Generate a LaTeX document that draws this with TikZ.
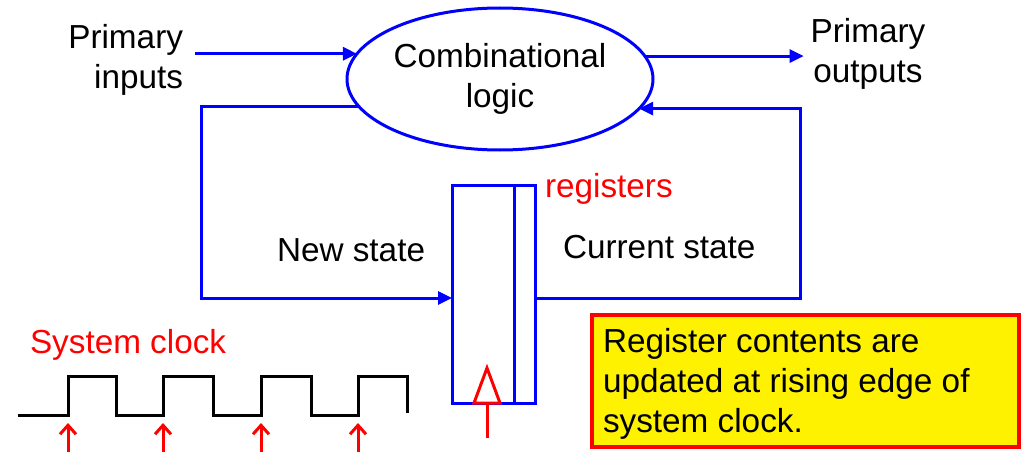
\documentclass[tikz,border=0pt]{standalone}
\usepackage{fontspec}
\setmainfont{Liberation Sans}
\usetikzlibrary{arrows.meta,shapes.geometric}
\begin{document}
\begin{tikzpicture}[x=1pt,y=-1pt,
  every node/.style={font=\fontsize{33.3}{40}\selectfont, inner sep=0pt, outer sep=0pt},
  wire/.style={blue, line width=3pt},
  arr/.style={-{Triangle[length=14pt,width=13pt]}},
  redarr/.style={red, line width=3pt, -{Straight Barb[length=9pt,width=16pt]}},
  clk/.style={line width=3pt, line join=miter}]
\useasboundingbox (0,0) rectangle (1025,452);
% combinational logic
\node[ellipse, draw=blue, line width=3pt, minimum width=306pt, minimum height=142pt, align=center] (ell) at (500,79) {Combinational\\logic};
% labels
\node[align=right, anchor=east] (pin) at (183,59.5) {Primary\\inputs};
\node[align=center] (pout) at (868,54) {Primary\\outputs};
\node[anchor=base west, red] (regl) at (545,197) {registers};
\node[anchor=base west] (nst) at (277,261) {New state};
\node[anchor=base west] (cst) at (563,258) {Current state};
\node[anchor=base west, red] (sclk) at (30,353) {System clock};
% register
\node[draw=blue, line width=3pt, minimum width=83pt, minimum height=218pt] (reg) at (493.5,294) {};
\draw[wire] ([xshift=-21pt]reg.north east) -- ([xshift=-21pt]reg.south east);
\coordinate (ck) at ([xshift=-6.5pt]reg.south);
\draw[red, line width=3pt, line join=miter] (ck) ++(-13,0) -- ++(13,-35) -- ++(13,35) -- cycle;
\draw[red, line width=3pt] (ck) -- ++(0,35);
% wires
\draw[wire,arr] ([xshift=12pt]pin.east |- ell.170.5) -- (ell.170.5);
\draw[wire,arr] (ell.9.5) -- ([xshift=-7pt]ell.9.5 -| pout.west);
\coordinate (lc) at (201,298);
\coordinate (rc) at (800,298);
\draw[wire,arr] (ell.191.3) -| (lc) -- (lc -| reg.west);
\draw[wire,arr] (rc -| reg.east) -- (rc) |- (ell.348.7);
% clock waveform
\draw[clk] (18,415) -- (68,415) -- (68,376) -- (116,376) -- (116,415) -- (163,415) -- (163,376) -- (213,376) -- (213,415) -- (261,415) -- (261,376) -- (311,376) -- (311,415) -- (358,415) -- (358,376) -- (407,376) -- (407,413);
\foreach \x in {68,163,261,358} \draw[redarr] (\x,452) -- (\x,423);
% note
\node[draw=red, fill=yellow, line width=4pt, minimum width=427pt, minimum height=132pt] (note) at (805.5,381) {};
\node[align=left, anchor=base west] (notetext) at (603,432) {Register contents are\\updated at rising edge of\\system clock.};
\end{tikzpicture}
\end{document}
